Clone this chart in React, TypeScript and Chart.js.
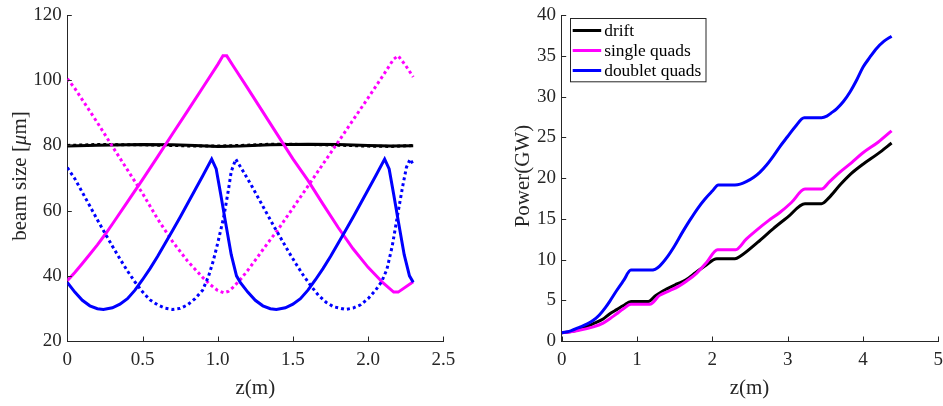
import React, { useEffect, useRef } from "react";
import { Chart, registerables } from "chart.js";

Chart.register(...registerables);

const SERIF = '"Liberation Serif", "Times New Roman", serif';
const INK = "#262626";

// ---- beam size along the undulator (left panel) ----
const blueSolidZ = [0, 0.05, 0.1, 0.15, 0.2, 0.24, 0.3, 0.35, 0.4, 0.45, 0.5, 0.55, 0.6, 0.65, 0.7, 0.75, 0.8, 0.85, 0.9, 0.96, 0.99, 1.02, 1.05, 1.09, 1.125, 1.15,
  1.2, 1.25, 1.3, 1.35, 1.39, 1.45, 1.5, 1.55, 1.6, 1.65, 1.7, 1.75, 1.8, 1.85, 1.9, 1.95, 2.0, 2.05, 2.11, 2.14, 2.17, 2.2, 2.24, 2.275, 2.3];
const blueSolidSize = [38.0, 35.0, 32.5, 30.8, 29.9, 29.7, 30.2, 31.3, 33.0, 35.6, 38.8, 42.2, 45.9, 49.9, 53.9, 58.0, 62.2, 66.4, 70.6, 75.8, 72.8, 65.0, 57.0, 46.5, 40.0, 38.0,
  35.0, 32.5, 30.8, 29.9, 29.7, 30.2, 31.3, 33.0, 35.6, 38.8, 42.2, 45.9, 49.9, 53.9, 58.0, 62.2, 66.4, 70.6, 75.8, 72.8, 65.0, 57.0, 46.5, 40.0, 38.0];

const blueDotZ = [0, 0.05, 0.1, 0.15, 0.2, 0.25, 0.3, 0.35, 0.4, 0.45, 0.5, 0.55, 0.6, 0.65, 0.7, 0.75, 0.8, 0.85, 0.9, 0.94, 0.97, 1.0, 1.04, 1.07, 1.09,
  1.12, 1.17, 1.22, 1.27, 1.32, 1.37, 1.42, 1.47, 1.52, 1.57, 1.62, 1.67, 1.72, 1.77, 1.85, 1.9, 1.95, 2.0, 2.05, 2.09, 2.125, 2.16, 2.2, 2.23, 2.255, 2.28, 2.3];
const blueDotSize = [73.2, 69.8, 65.6, 61.4, 57.2, 53.1, 49.1, 45.2, 41.5, 38.1, 35.1, 32.6, 31.1, 30.1, 29.7, 30.0, 31.1, 33.0, 35.6, 40.0, 44.5, 50.0, 58.0, 66.0, 72.0,
  75.8, 72.0, 68.1, 63.9, 59.7, 55.5, 51.5, 47.5, 43.7, 40.1, 36.9, 34.0, 31.9, 30.5, 29.7, 30.1, 31.1, 33.0, 35.6, 38.2, 42.0, 49.0, 59.7, 67.5, 73.3, 75.8, 74.1];

const magSolidZ = [0, 0.05, 0.1, 0.15, 0.2, 0.25, 0.3, 0.4, 0.5, 0.6, 0.7, 0.8, 0.9, 1.0, 1.035, 1.06, 1.1, 1.2, 1.3, 1.4, 1.5, 1.6, 1.7, 1.8, 1.9, 2.0, 2.1, 2.17, 2.2, 2.3];
const magSolidSize = [38.5, 41.0, 43.8, 46.6, 49.5, 52.6, 55.9, 62.7, 69.5, 76.5, 83.6, 90.6, 97.7, 104.8, 107.5, 107.5, 104.6, 97.5, 90.3, 83.1, 75.9, 69.3, 62.0, 54.9, 48.3, 42.6, 37.8, 35.0, 35.0, 38.2];

const magDotZ = [0, 0.05, 0.1, 0.2, 0.3, 0.4, 0.5, 0.6, 0.7, 0.8, 0.9, 0.95, 1.0, 1.04, 1.07, 1.1, 1.15, 1.2, 1.25, 1.3, 1.35, 1.4, 1.5, 1.6, 1.7, 1.8, 1.9, 2.0, 2.1, 2.17, 2.2, 2.25, 2.3];
const magDotSize = [100.5, 97.5, 94.0, 87.0, 79.7, 72.5, 65.3, 57.5, 50.5, 44.5, 39.5, 37.3, 35.5, 34.8, 35.2, 36.4, 38.8, 41.7, 44.8, 48.0, 51.1, 54.1, 60.8, 67.5, 74.3, 81.0, 87.8, 94.6, 101.5, 106.5, 107.5, 104.5, 101.0];

const blackZ = [0, 0.2, 0.5, 0.7, 0.85, 1.0, 1.15, 1.35, 1.6, 1.8, 2.0, 2.15, 2.3];
const blackSolidSize = [79.8, 80.1, 80.3, 80.2, 80.0, 79.7, 79.8, 80.2, 80.4, 80.3, 80.0, 79.8, 79.9];
const blackDotSize = [80.0, 80.3, 80.2, 80.0, 79.8, 79.8, 80.0, 80.4, 80.3, 80.1, 79.8, 79.7, 80.0];

// ---- FEL power growth (right panel) ----
const driftZ = [0, 0.2, 0.42, 0.55, 0.64, 0.73, 0.82, 0.92, 1.15, 1.25, 1.39, 1.53, 1.65, 1.75, 1.9, 2.06, 2.3, 2.37, 2.6, 2.81, 3.0, 3.23, 3.45, 3.55, 3.7, 3.85, 4.0, 4.2, 4.38];
const driftPower = [1.0, 1.3, 2.13, 2.7, 3.35, 3.85, 4.35, 4.84, 4.84, 5.6, 6.37, 7.0, 7.5, 8.2, 9.2, 10.1, 10.1, 10.4, 12.1, 13.8, 15.2, 16.85, 16.85, 17.6, 19.2, 20.6, 21.7, 23.0, 24.3];

const singleZ = [0, 0.2, 0.42, 0.55, 0.64, 0.73, 0.82, 0.92, 1.17, 1.3, 1.44, 1.55, 1.66, 1.79, 1.92, 2.07, 2.31, 2.45, 2.6, 2.75, 2.9, 3.05, 3.23, 3.45, 3.55, 3.69, 3.85, 4.0, 4.2, 4.38];
const singlePower = [1.0, 1.25, 1.73, 2.2, 2.74, 3.35, 3.95, 4.5, 4.5, 5.6, 6.2, 6.7, 7.37, 8.3, 9.6, 11.2, 11.2, 12.5, 13.7, 14.8, 15.8, 17.0, 18.65, 18.65, 19.5, 20.7, 21.9, 23.1, 24.4, 25.8];

const doubletZ = [0, 0.12, 0.24, 0.34, 0.42, 0.5, 0.58, 0.64, 0.73, 0.82, 0.92, 1.17, 1.24, 1.3, 1.4, 1.5, 1.6, 1.7, 1.8, 1.9, 2.0, 2.08, 2.3, 2.37, 2.45, 2.55, 2.63, 2.72, 2.81, 2.9, 3.0, 3.1, 3.22, 3.45, 3.52, 3.58, 3.65, 3.74, 3.83, 3.92, 4.0, 4.09, 4.18, 4.28, 4.38];
const doubletPower = [1.0, 1.25, 1.7, 2.1, 2.55, 3.2, 4.1, 4.9, 6.2, 7.4, 8.7, 8.7, 8.8, 9.2, 10.3, 11.7, 13.3, 14.8, 16.2, 17.4, 18.4, 19.15, 19.15, 19.25, 19.55, 20.1, 20.7, 21.6, 22.7, 23.9, 25.1, 26.3, 27.4, 27.4, 27.6, 28.0, 28.5, 29.4, 30.6, 32.1, 33.6, 34.8, 35.9, 36.8, 37.4];

const powerLabels = ["drift", "single quads", "doublet quads"];
const lineColors = { black: "#000000", magenta: "#ff00ff", blue: "#0000ff" };

function pairs(xs: number[], ys: number[]) {
  return xs.map((x, i) => ({ x, y: ys[i] }));
}

type TitlePart = { text: string; italic?: boolean };
type TitleSpec = { x: number; y: number; rotate?: boolean; size: number; parts: TitlePart[] };

function axisTitles(specs: TitleSpec[]) {
  return {
    id: "axisTitles",
    afterDraw(chart: any) {
      const ctx = chart.ctx as CanvasRenderingContext2D;
      for (const s of specs) {
        ctx.save();
        ctx.fillStyle = INK;
        ctx.textBaseline = "middle";
        ctx.textAlign = "left";
        const fonts = s.parts.map((p) => `${p.italic ? "italic " : ""}${s.size}px ${SERIF}`);
        let total = 0;
        const widths = s.parts.map((p, i) => {
          ctx.font = fonts[i];
          const w = ctx.measureText(p.text).width;
          total += w;
          return w;
        });
        ctx.translate(s.x, s.y);
        if (s.rotate) ctx.rotate(-Math.PI / 2);
        let cx = -total / 2;
        s.parts.forEach((p, i) => {
          ctx.font = fonts[i];
          ctx.fillText(p.text, cx, 0);
          cx += widths[i];
        });
        ctx.restore();
      }
    },
  };
}

// Short tick marks pointing into the plot area
const inwardTicks = {
  id: "inwardTicks",
  afterDraw(chart: any) {
    const { ctx, chartArea, scales } = chart;
    const len = 4.5;
    ctx.save();
    ctx.strokeStyle = INK;
    ctx.lineWidth = 1;
    for (const t of scales.x.ticks) {
      const px = Math.round(scales.x.getPixelForValue(t.value)) + 0.5;
      ctx.beginPath();
      ctx.moveTo(px, chartArea.bottom);
      ctx.lineTo(px, chartArea.bottom - len);
      ctx.stroke();
    }
    for (const t of scales.y.ticks) {
      const py = Math.round(scales.y.getPixelForValue(t.value)) + 0.5;
      ctx.beginPath();
      ctx.moveTo(chartArea.left, py);
      ctx.lineTo(chartArea.left + len, py);
      ctx.stroke();
    }
    ctx.restore();
  },
};

// Boxed legend in the upper-left corner of the power plot
const boxedLegend = {
  id: "boxedLegend",
  afterDraw(chart: any) {
    const ctx = chart.ctx as CanvasRenderingContext2D;
    const left = chart.chartArea.left + 8;
    const top = 17.7;
    const w = 135.5;
    const h = 63.3;
    ctx.save();
    ctx.fillStyle = "#ffffff";
    ctx.fillRect(left, top, w, h);
    ctx.strokeStyle = INK;
    ctx.lineWidth = 1;
    ctx.strokeRect(Math.round(left) + 0.5, Math.round(top) + 0.5, w, h);
    ctx.font = `17.4px ${SERIF}`;
    ctx.textBaseline = "middle";
    ctx.textAlign = "left";
    const rowsY = [30.5, 50.5, 70.5];
    const byLabel: Record<string, string> = {};
    chart.data.datasets.forEach((d: any) => (byLabel[d.label] = d.borderColor));
    powerLabels.forEach((label, i) => {
      ctx.strokeStyle = byLabel[label];
      ctx.lineWidth = 3;
      ctx.beginPath();
      ctx.moveTo(left + 3, rowsY[i]);
      ctx.lineTo(left + 31.5, rowsY[i]);
      ctx.stroke();
      ctx.fillStyle = "#000000";
      ctx.fillText(label, left + 34.5, rowsY[i] + 0.5);
    });
    ctx.restore();
  },
};

function tickFont() {
  return { family: SERIF, size: 19, lineHeight: 1 };
}

function axisBase(min: number, max: number, step: number, padding: number) {
  return {
    type: "linear" as const,
    min,
    max,
    ticks: { stepSize: step, padding, font: tickFont(), color: INK, autoSkip: false, maxRotation: 0 },
    grid: { display: false, drawTicks: false },
    border: { display: true, color: INK, width: 1 },
  };
}

function line(label: string, xs: number[], ys: number[], color: string, dotted: boolean, order: number, smooth = false) {
  return {
    label,
    data: pairs(xs, ys),
    borderColor: color,
    backgroundColor: color,
    borderWidth: 3,
    borderDash: dotted ? [3, 3] : [],
    borderCapStyle: "butt" as const,
    pointRadius: 0,
    fill: false,
    order,
    tension: 0,
    cubicInterpolationMode: smooth ? ("monotone" as const) : ("default" as const),
  };
}

function BeamSizeChart() {
  const ref = useRef<HTMLCanvasElement | null>(null);
  useEffect(() => {
    if (!ref.current) return;
    const chart = new Chart(ref.current, {
      type: "line",
      data: {
        datasets: [
          line("doublet (x)", blueSolidZ, blueSolidSize, lineColors.blue, false, 1),
          line("doublet (y)", blueDotZ, blueDotSize, lineColors.blue, true, 2),
          line("single (x)", magSolidZ, magSolidSize, lineColors.magenta, false, 3),
          line("single (y)", magDotZ, magDotSize, lineColors.magenta, true, 4),
          line("drift (x)", blackZ, blackSolidSize, lineColors.black, false, 5),
          line("drift (y)", blackZ, blackDotSize, lineColors.black, true, 6),
        ],
      },
      options: {
        animation: false,
        responsive: false,
        layout: { padding: { top: 10.3, right: 26.7, bottom: 0, left: 0 } },
        plugins: { legend: { display: false }, tooltip: { enabled: false } },
        scales: {
          x: { ...axisBase(0, 2.5, 0.5, 9.5), afterFit: (s: any) => { s.height = 65; } },
          y: { ...axisBase(20, 120, 20, 5.6), afterFit: (s: any) => { s.width = 67.3; } },
        },
      },
      plugins: [
        inwardTicks,
        axisTitles([
          { x: 255.3, y: 388, size: 21, parts: [{ text: "z(m)" }] },
          { x: 20, y: 176, size: 21, rotate: true, parts: [{ text: "beam size [" }, { text: "μ", italic: true }, { text: "m]" }] },
        ]),
      ],
    } as any);
    return () => chart.destroy();
  }, []);
  return <canvas ref={ref} width={470} height={406} style={{ position: "absolute", left: 0, top: 0 }} />;
}

function PowerChart() {
  const ref = useRef<HTMLCanvasElement | null>(null);
  useEffect(() => {
    if (!ref.current) return;
    const chart = new Chart(ref.current, {
      type: "line",
      data: {
        datasets: [
          line(powerLabels[2], doubletZ, doubletPower, lineColors.blue, false, 1, true),
          line(powerLabels[1], singleZ, singlePower, lineColors.magenta, false, 2, true),
          line(powerLabels[0], driftZ, driftPower, lineColors.black, false, 3, true),
        ],
      },
      options: {
        animation: false,
        responsive: false,
        layout: { padding: { top: 10.3, right: 21.7, bottom: 0, left: 0 } },
        plugins: { legend: { display: false }, tooltip: { enabled: false } },
        scales: {
          x: { ...axisBase(0, 5, 1, 9.5), afterFit: (s: any) => { s.height = 65; } },
          y: { ...axisBase(0, 40, 5, 5.6), afterFit: (s: any) => { s.width = 91.7; } },
        },
      },
      plugins: [
        inwardTicks,
        boxedLegend,
        axisTitles([
          { x: 279.5, y: 388, size: 21, parts: [{ text: "z(m)" }] },
          { x: 53, y: 176, size: 21, rotate: true, parts: [{ text: "Power(GW)" }] },
        ]),
      ],
    } as any);
    return () => chart.destroy();
  }, []);
  return <canvas ref={ref} width={490} height={406} style={{ position: "absolute", left: 470, top: 0 }} />;
}

export default function App() {
  return (
    <div style={{ position: "fixed", left: 0, top: 0, width: 943, height: 406, background: "#ffffff", overflow: "hidden" }}>
      <BeamSizeChart />
      <PowerChart />
    </div>
  );
}
